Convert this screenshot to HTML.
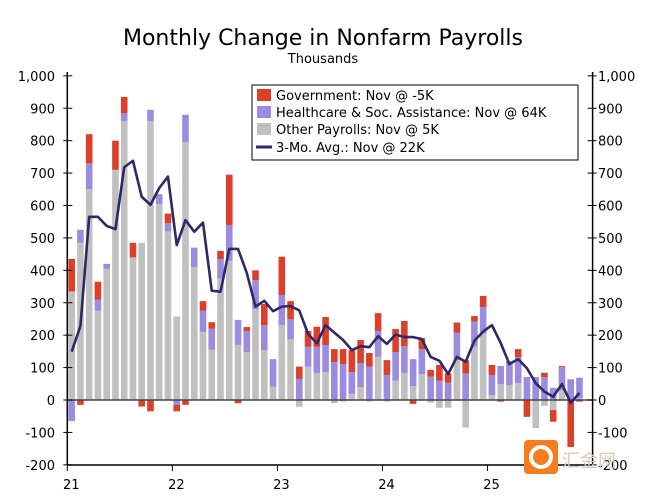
<!DOCTYPE html>
<html><head><meta charset="utf-8"><style>
body{margin:0;background:#fff;width:645px;height:497px;overflow:hidden;font-family:"DejaVu Sans","Liberation Sans",sans-serif;}
svg text{font-family:"DejaVu Sans","Liberation Sans",sans-serif;}
</style></head><body>
<svg id="chart" width="645" height="497" xmlns="http://www.w3.org/2000/svg">
<text x="323" y="45" text-anchor="middle" font-size="22">Monthly Change in Nonfarm Payrolls</text>
<text x="323" y="63" text-anchor="middle" font-size="13">Thousands</text>
<g id="bars"></g>
<g id="axes"></g>
<g id="line"></g>
<g>
<rect x="252" y="85" width="326" height="75" fill="#fff" stroke="#000" stroke-width="1"/>
<rect x="257" y="89" width="14" height="12" fill="#dc4028"/>
<text x="276" y="100" font-size="13">Government: Nov @ -5K</text>
<rect x="257" y="106" width="14" height="12" fill="#9b8ce0"/>
<text x="276" y="117" font-size="13">Healthcare &amp; Soc. Assistance: Nov @ 64K</text>
<rect x="257" y="123" width="14" height="12" fill="#c0c0c0"/>
<text x="276" y="134" font-size="13">Other Payrolls: Nov @ 5K</text>
<line x1="256" y1="147" x2="272" y2="147" stroke="#2e2868" stroke-width="3"/>
<text x="276" y="152" font-size="13">3-Mo. Avg.: Nov @ 22K</text>
</g>
<g>
<rect x="524" y="440" width="34" height="34" rx="4" fill="#f57c1f"/>
<circle cx="541" cy="457" r="10" fill="none" stroke="#fff" stroke-width="4"/>
<text x="562" y="467" font-size="18" fill="#d9c9b8" font-family="Noto Sans CJK SC, sans-serif">汇金网</text>
</g>
</svg>
<script>
const other=[335,485,650,275,405,710,860,440,485,860,605,520,258,795,410,210,155,375,430,170,148,280,154,41,231,187,-21,103,83,86,-10,-5,19,40,-5,133,-5,60,83,43,80,-8,-24,-24,123,-85,165,206,15,49,46,52,0,-87,-18,-31,30,0,5];
const health=[-65,40,80,35,15,0,25,0,0,35,30,25,-15,85,60,65,65,60,110,77,65,90,77,85,93,62,65,61,81,83,117,111,67,74,103,80,77,88,83,83,77,72,60,53,85,82,77,81,62,56,68,80,71,71,71,38,72,64,64];
const gov=[100,-15,90,55,0,90,50,45,-20,-35,0,30,-20,-15,0,30,20,25,155,-10,12,30,65,0,118,56,38,49,62,87,40,46,68,71,42,55,46,71,78,-12,34,21,48,29,31,41,17,34,31,-5,5,25,-52,0,13,-36,3,-145,-5];
const avg=[149,228,565,565,537,527,718,738,627,602,654,689,478,555,519,547,337,334,466,466,392,288,306,274,288,290,276,204,175,231,208,185,154,166,163,197,173,202,194,194,188,133,121,80,133,118,183,211,231,176,111,126,98,52,26,10,49,-9,22];
const yTicks=[-200,-100,0,100,200,300,400,500,600,700,800,900,1000];
const yearLabels=["21","22","23","24","25"];
const NS="http://www.w3.org/2000/svg";
const L=67.3,R=592.6,T=76,B=465,step=(R-L)/60;
const y=v=>400-(v)*(B-T)/1200;
const x=i=>L+step*(i+0.5);
const bw=6.6;
const bars=document.getElementById('bars');
function mk(tag,attrs,parent){const e=document.createElementNS(NS,tag);for(const k in attrs)e.setAttribute(k,attrs[k]);parent.appendChild(e);return e;}
const series=[[other,'#c0c0c0','other'],[health,'#9b8ce0','healthcare'],[gov,'#dc4028','government']];
for(let i=0;i<other.length;i++){
 let pos=0,neg=0;
 for(const [arr,col,nm] of series){
  const v=arr[i];if(v===0)continue;
  let a,b;
  if(v>0){a=pos;b=pos+v;pos=b;}else{a=neg;b=neg+v;neg=b;}
  const r=mk('rect',{x:x(i)-bw/2,y:Math.min(y(a),y(b)),width:bw,height:Math.abs(y(a)-y(b)),fill:col},bars);
  
  
 }
}
const ax=document.getElementById('axes');
mk('line',{x1:L,y1:y(0),x2:R,y2:y(0),stroke:'#444','stroke-width':1.5},ax);
mk('line',{x1:L,y1:T-4,x2:L,y2:B,stroke:'#000','stroke-width':1.5},ax);
mk('line',{x1:R,y1:T-4,x2:R,y2:B,stroke:'#000','stroke-width':1.5},ax);
mk('line',{x1:L,y1:B,x2:R,y2:B,stroke:'#000','stroke-width':1.5},ax);
yTicks.forEach(t=>{
 mk('line',{x1:L-4,y1:y(t),x2:L+5,y2:y(t),stroke:'#000'},ax);
 mk('line',{x1:R-5,y1:y(t),x2:R+4,y2:y(t),stroke:'#000'},ax);
 const lab=t.toLocaleString('en-US');
 const a=mk('text',{x:55,y:y(t)+5,'text-anchor':'end','font-size':13},ax);a.textContent=lab;
 
 
 const b=mk('text',{x:598,y:y(t)+5,'font-size':13},ax);b.textContent=lab;
 
 
});
yearLabels.forEach((s,k)=>{
 const xx=L+step*12*k;
 mk('line',{x1:xx,y1:B,x2:xx,y2:B+6,stroke:'#000'},ax);
 const t=mk('text',{x:xx+4,y:B+24,'text-anchor':'middle','font-size':13},ax);t.textContent=s;
 
 
});
const pl=mk('polyline',{points:avg.map((v,i)=>x(i)+','+y(v)).join(' '),fill:'none',stroke:'#2e2868','stroke-width':2.6,'stroke-linejoin':'round'},document.getElementById('line'));


</script>
</body></html>
